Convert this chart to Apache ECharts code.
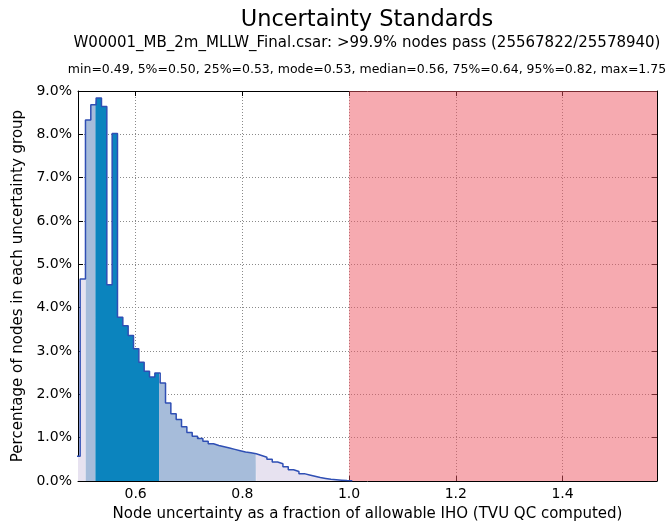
<!DOCTYPE html>
<html>
<head>
<meta charset="utf-8">
<script src="https://cdn.jsdelivr.net/npm/echarts@6/dist/echarts.min.js"></script>
<style>
  html, body { margin: 0; padding: 0; background: #fff; }
  #main { width: 670px; height: 527px; }
</style>
</head>
<body>
<div id="main"></div>
<script>
// histogram bin edges (fraction of allowable IHO)
var binEdges = [
    0.486, 0.496, 0.506, 0.516, 0.526, 0.536, 0.546, 0.556, 0.566, 0.576,
    0.586, 0.596, 0.606, 0.616, 0.626, 0.636, 0.646, 0.656, 0.666, 0.676,
    0.686, 0.696, 0.706, 0.716, 0.726, 0.736, 0.746, 0.756, 0.766, 0.776,
    0.786, 0.796, 0.806, 0.816, 0.826, 0.836, 0.846, 0.856, 0.866, 0.876,
    0.886, 0.896, 0.906, 0.916, 0.926, 0.936, 0.946, 0.956, 0.966, 0.976,
    0.986, 0.996, 1.006
];
// percentage of nodes per bin
var pctNodes = [
    0.57, 4.66, 8.33, 8.68, 8.84, 8.64, 4.53, 8.02, 3.78, 3.58,
    3.36, 3.05, 2.74, 2.53, 2.40, 2.49, 2.26, 1.80, 1.55, 1.42,
    1.25, 1.12, 1.03, 0.98, 0.92, 0.86, 0.82, 0.79, 0.76, 0.73,
    0.70, 0.67, 0.65, 0.63, 0.59, 0.55, 0.50, 0.44, 0.40, 0.33,
    0.26, 0.22, 0.17, 0.14, 0.11, 0.08, 0.06, 0.04, 0.03, 0.02,
    0.01, 0.005
];
// quantile limits of shaded bands: min, 5%, 25%, 75%, 95%, end
var bandLimits = [0.486, 0.5064, 0.5246, 0.6438, 0.8252, 1.006];
var failStart = 1.0;
var xMin = 0.492, xMax = 1.577;
var yMax = 9;

var bandColors = ['#e7e2f0', '#a6bcda', '#0b84be', '#a6bcda', '#e7e2f0'];

var titleText = 'Uncertainty Standards';
var subText = 'W00001_MB_2m_MLLW_Final.csar: >99.9% nodes pass (25567822/25578940)';
var statsText = 'min=0.49, 5%=0.50, 25%=0.53, mode=0.53, median=0.56, 75%=0.64, 95%=0.82, max=1.75';

var FONT = 'DejaVu Sans';

function valueAt(x) {
    for (var i = 0; i < pctNodes.length; i++) {
        if (x >= binEdges[i] && x < binEdges[i + 1]) return pctNodes[i];
    }
    return 0;
}

// step data for one shaded band
function bandData(a, b) {
    var pts = [[a, valueAt(a)]];
    for (var i = 0; i < binEdges.length - 1; i++) {
        if (binEdges[i] > a && binEdges[i] < b) pts.push([binEdges[i], pctNodes[i]]);
    }
    pts.push([b, valueAt(b - 1e-6)]);
    return pts;
}

var series = [];
for (var j = 0; j < bandLimits.length - 1; j++) {
    series.push({
        type: 'line',
        step: 'end',
        symbol: 'none',
        silent: true,
        data: bandData(bandLimits[j], bandLimits[j + 1]),
        lineStyle: { width: 0 },
        areaStyle: { color: bandColors[j], opacity: 1 },
        z: 2
    });
}

var outline = [];
for (var k = 0; k < pctNodes.length; k++) outline.push([binEdges[k], pctNodes[k]]);
outline.push([binEdges[binEdges.length - 1], 0]);

series.push({
    type: 'line',
    step: 'end',
    symbol: 'none',
    silent: true,
    data: outline,
    lineStyle: { color: '#2f4fb4', width: 1.5 },
    z: 3,
    markArea: {
        silent: true,
        itemStyle: { color: 'rgba(237,85,97,0.5)' },
        data: [[{ xAxis: failStart }, { xAxis: xMax }]]
    }
});

var myChart = echarts.init(document.getElementById('main'));

var gridDots = { type: [1, 2], color: '#8a8a8a', width: 1 };

var option = {
    animation: false,
    backgroundColor: '#fff',
    grid: { left: 78, right: 13, top: 91, bottom: 46 },
    graphic: [
        { type: 'text', x: 367, y: 20, style: { text: titleText, fontSize: 22.5, fontFamily: FONT, fill: '#000', align: 'center', verticalAlign: 'middle' } },
        { type: 'text', x: 367, y: 43, style: { text: subText, fontSize: 15, fontFamily: FONT, fill: '#000', align: 'center', verticalAlign: 'middle' } },
        { type: 'text', x: 367, y: 70, style: { text: statsText, fontSize: 12.5, fontFamily: FONT, fill: '#000', align: 'center', verticalAlign: 'middle' } }
    ],
    xAxis: [{
        type: 'value',
        min: xMin,
        max: xMax,
        splitNumber: 5,
        position: 'bottom',
        name: 'Node uncertainty as a fraction of allowable IHO (TVU QC computed)',
        nameLocation: 'middle',
        nameGap: 26,
        nameTextStyle: { fontFamily: FONT, fontSize: 15, color: '#000' },
        axisLine: { onZero: false, lineStyle: { color: '#000', width: 1 } },
        axisTick: { inside: true, length: 5, lineStyle: { color: '#000' } },
        axisLabel: {
            showMinLabel: false, showMaxLabel: false, margin: 6,
            fontFamily: FONT, fontSize: 14, color: '#000',
            formatter: function(v) { return v.toFixed(1); }
        },
        splitLine: { show: true, lineStyle: gridDots }
    }, {
        type: 'value',
        min: xMin,
        max: xMax,
        splitNumber: 5,
        position: 'top',
        axisLine: { onZero: false, lineStyle: { color: '#000', width: 1 } },
        axisTick: { inside: true, length: 5, lineStyle: { color: '#000' } },
        axisLabel: { show: false },
        splitLine: { show: false }
    }],
    yAxis: [{
        type: 'value',
        min: 0,
        max: yMax,
        interval: 1,
        position: 'left',
        name: 'Percentage of nodes in each uncertainty group',
        nameLocation: 'middle',
        nameRotate: 90,
        nameGap: 47,
        nameTextStyle: { fontFamily: FONT, fontSize: 15, color: '#000' },
        axisLine: { show: true, lineStyle: { color: '#000', width: 1 } },
        axisTick: { show: true, inside: true, length: 5, lineStyle: { color: '#000' } },
        axisLabel: {
            margin: 6, fontFamily: FONT, fontSize: 14, color: '#000',
            formatter: function(v) { return v.toFixed(1) + '%'; }
        },
        splitLine: { show: true, lineStyle: gridDots }
    }, {
        type: 'value',
        min: 0,
        max: yMax,
        interval: 1,
        position: 'right',
        axisLine: { show: true, lineStyle: { color: '#000', width: 1 } },
        axisTick: { show: true, inside: true, length: 5, lineStyle: { color: '#000' } },
        axisLabel: { show: false },
        splitLine: { show: false }
    }],
    series: series
};

myChart.setOption(option);
</script>
</body>
</html>
